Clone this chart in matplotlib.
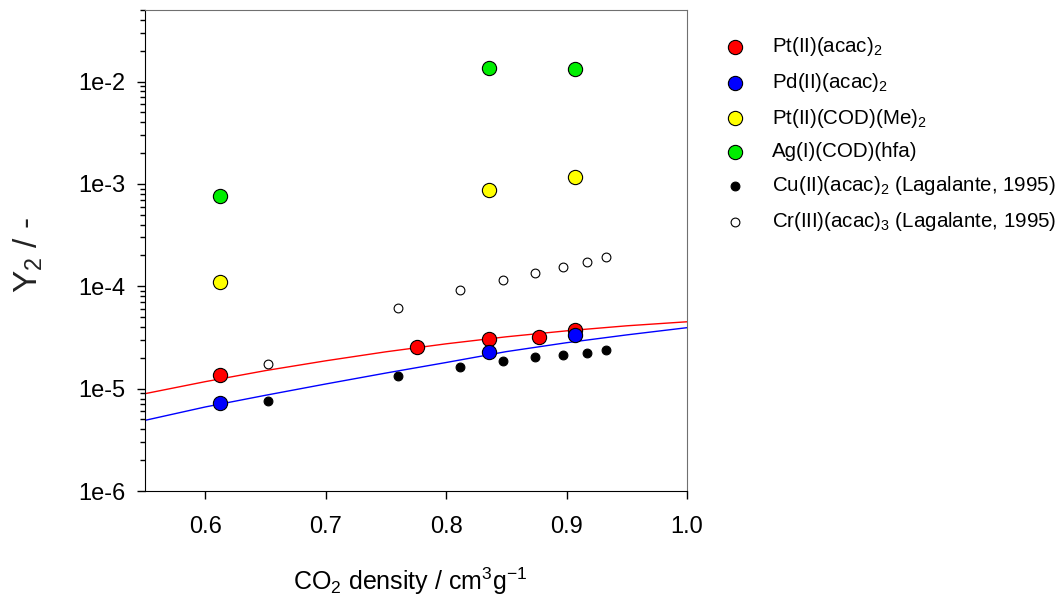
import numpy as np
import matplotlib
matplotlib.use('Agg')
import matplotlib.pyplot as plt
from matplotlib.ticker import LogLocator, FuncFormatter, FixedLocator

plt.rcParams['font.family'] = ['Liberation Sans', 'DejaVu Sans']
plt.rcParams['mathtext.fontset'] = 'custom'
plt.rcParams['mathtext.rm'] = 'Liberation Sans'
plt.rcParams['mathtext.it'] = 'Liberation Sans:italic'

# measured data (CO2 density in g/cm3, mole fraction Y2)
pt_acac_x = [0.612, 0.776, 0.836, 0.877, 0.907]
pt_acac_y = [1.36e-5, 2.54e-5, 3.07e-5, 3.23e-5, 3.78e-5]

pd_acac_x = [0.612, 0.836, 0.907]
pd_acac_y = [7.3e-6, 2.30e-5, 3.33e-5]

pt_cod_x = [0.612, 0.836, 0.907]
pt_cod_y = [1.09e-4, 8.75e-4, 1.18e-3]

ag_cod_x = [0.612, 0.836, 0.907]
ag_cod_y = [7.66e-4, 1.36e-2, 1.33e-2]

cu_x = [0.652, 0.760, 0.8115, 0.8475, 0.874, 0.897, 0.917, 0.933]
cu_y = [7.57e-6, 1.32e-5, 1.64e-5, 1.86e-5, 2.03e-5, 2.13e-5, 2.25e-5, 2.36e-5]

cr_x = [0.652, 0.760, 0.8115, 0.8475, 0.874, 0.897, 0.917, 0.933]
cr_y = [1.74e-5, 6.1e-5, 9.3e-5, 1.14e-4, 1.35e-4, 1.53e-4, 1.73e-4, 1.94e-4]

# model curves
fit_x = [0.55, 0.60, 0.65, 0.70, 0.75, 0.80, 0.85, 0.90, 0.95, 1.0]
fit_pt_y = [8.93e-6, 1.17e-5, 1.50e-5, 1.87e-5, 2.29e-5, 2.74e-5, 3.21e-5, 3.67e-5, 4.11e-5, 4.50e-5]
fit_pd_y = [4.90e-6, 6.62e-6, 8.61e-6, 1.11e-5, 1.42e-5, 1.80e-5, 2.30e-5, 2.81e-5, 3.35e-5, 3.94e-5]

fig = plt.figure(figsize=(10.58, 6.05), dpi=100)
ax = fig.add_axes([145/1058, 1 - 491/605, (687 - 145)/1058, (491 - 10)/605])

ax.plot(fit_x, fit_pt_y, color='red', lw=1.0, zorder=2)
ax.plot(fit_x, fit_pd_y, color='blue', lw=1.0, zorder=2)

big = dict(s=105, edgecolors='black', linewidths=0.8, zorder=3)
ax.scatter(pt_acac_x, pt_acac_y, c='red', label=r'Pt(II)(acac)$_2$', **big)
ax.scatter(pd_acac_x, pd_acac_y, c='blue', label=r'Pd(II)(acac)$_2$', **big)
ax.scatter(pt_cod_x, pt_cod_y, c='yellow', label=r'Pt(II)(COD)(Me)$_2$', **big)
ax.scatter(ag_cod_x, ag_cod_y, c='#00ee00', label='Ag(I)(COD)(hfa)', **big)
ax.scatter(cu_x, cu_y, s=40, c='black', edgecolors='black', linewidths=0.8,
           label=r'Cu(II)(acac)$_2$ (Lagalante, 1995)', zorder=3)
ax.scatter(cr_x, cr_y, s=40, c='white', edgecolors='black', linewidths=0.8,
           label=r'Cr(III)(acac)$_3$ (Lagalante, 1995)', zorder=3)

ax.set_yscale('log')
ax.set_xlim(0.55, 1.0)
ax.set_ylim(1e-6, 5e-2)
ax.xaxis.set_major_locator(FixedLocator([0.6, 0.7, 0.8, 0.9, 1.0]))
ax.xaxis.set_major_formatter(FuncFormatter(lambda v, p: '%.1f' % v))
ax.yaxis.set_major_locator(LogLocator(base=10, numticks=10))
ax.yaxis.set_minor_locator(LogLocator(base=10, subs=np.arange(2, 10), numticks=10))
ax.yaxis.set_major_formatter(FuncFormatter(lambda v, p: '1e%d' % int(round(np.log10(v)))))

ax.tick_params(which='both', direction='out', top=False, right=False, labelsize=17)
ax.tick_params(which='major', length=6, width=1)
ax.tick_params(which='minor', length=3.5, width=1)
ax.tick_params(axis='x', pad=12)
ax.tick_params(axis='y', pad=8)

for side in ['top', 'right']:
    ax.spines[side].set_color('#707070')
for side in ['left', 'bottom']:
    ax.spines[side].set_color('black')

ax.set_xlabel(r'CO$_2$ density / cm$^3$g$^{-1}$', fontsize=18)
ax.xaxis.set_label_coords(0.49, -0.155)
ax.set_ylabel(r'Y$_2$ / -', fontsize=24, color='#222222')
ax.yaxis.set_label_coords(-0.185, 0.49)

leg = ax.legend(loc='upper left', bbox_to_anchor=(706/1058, 1 - 27/605),
                bbox_transform=fig.transFigure, frameon=False, fontsize=14.8,
                labelspacing=0.62, handletextpad=0.8, borderaxespad=0)

fig.savefig('out.png', dpi=100)
